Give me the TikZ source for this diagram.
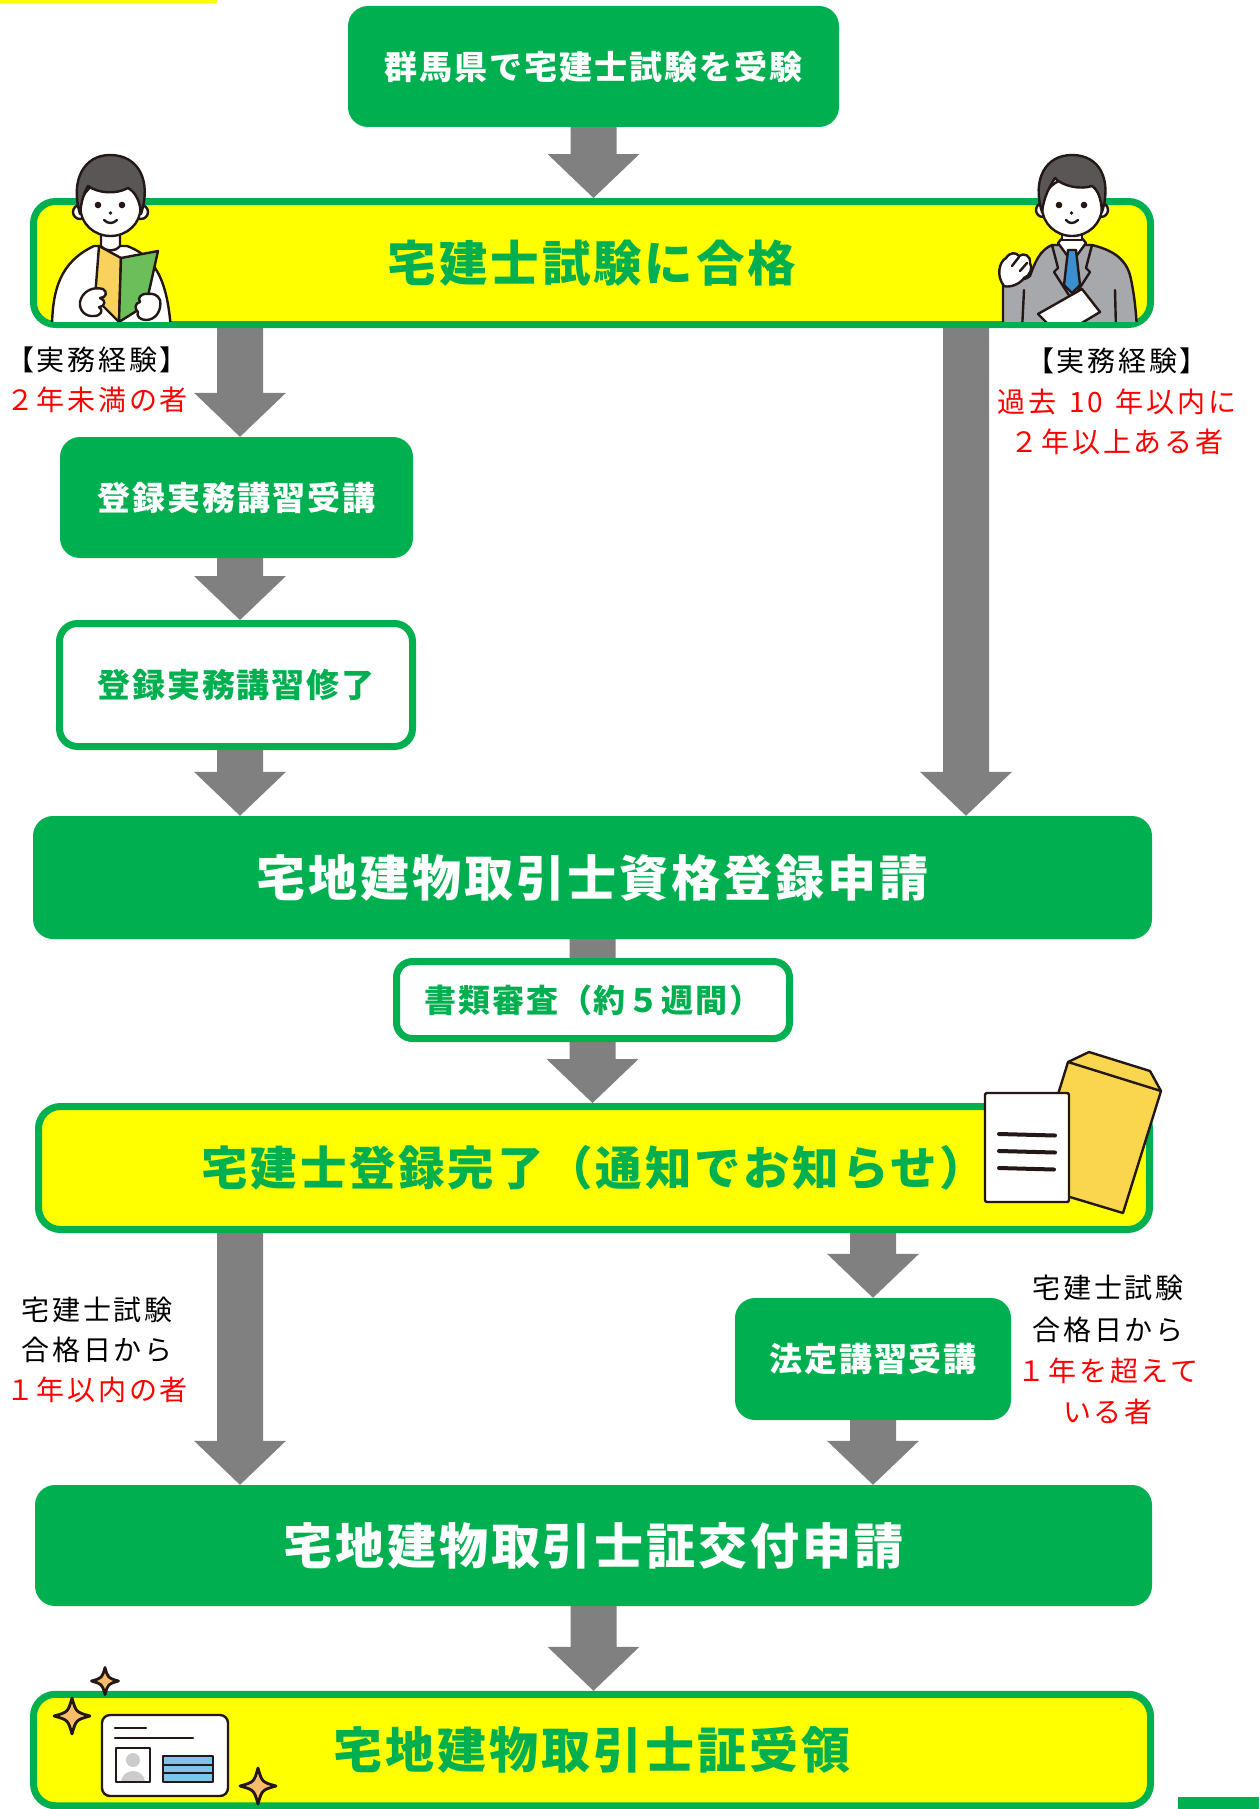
\documentclass[tikz,border=0pt]{standalone}
\usepackage{fontspec}
\usetikzlibrary{calc,backgrounds}

\newfontfamily\jp{Noto Sans CJK JP}[LetterSpace=6]
\newfontfamily\jplbl{Noto Sans CJK JP}[LetterSpace=10]

\definecolor{flowgreen}{HTML}{00B050}
\definecolor{flowyellow}{HTML}{FFFF00}
\definecolor{flowgray}{HTML}{808080}
\definecolor{flowred}{HTML}{FF0000}
\definecolor{ink}{HTML}{231815}
\definecolor{hair}{HTML}{5A5655}
\definecolor{suit}{HTML}{A6A8AB}
\definecolor{tie}{HTML}{3B8ED0}
\definecolor{bookyellow}{HTML}{F9D25E}
\definecolor{bookgreen}{HTML}{6CBE5A}
\definecolor{envelope}{HTML}{FAD54E}
\definecolor{sparkfill}{HTML}{F8BC6A}
\definecolor{cardblue}{HTML}{80C2EA}
\definecolor{silhouette}{HTML}{CCCCCC}

\newcommand\boxfont[1]{\jp\bfseries\fontsize{#1}{#1}\selectfont}
\newcommand\lblfont[1]{\jplbl\fontsize{28}{#1}\selectfont}

% thick grey block arrow from the first point straight down to the tip
\newcommand\flowarrow[2]{%
  \fill[flowgray] let \p1=(#1), \p2=(#2) in
    (\x1-23pt,\y1) -- (\x1+23pt,\y1) -- (\x1+23pt,\y2+44pt) -- (\x1+46pt,\y2+44pt)
    -- (\x1,\y2) -- (\x1-46pt,\y2+44pt) -- (\x1-23pt,\y2+44pt) -- cycle;}

% four-pointed sparkle: centre x, centre y, radius
\newcommand\sparkle[3]{%
  \filldraw[fill=sparkfill, draw=ink, line width=2.8pt, line join=round,
            shift={(#1,#2)}, scale=#3]
    (0,-1) .. controls (0.22,-0.22) .. (1,0) .. controls (0.22,0.22) .. (0,1)
    .. controls (-0.22,0.22) .. (-1,0) .. controls (-0.22,-0.22) .. (0,-1) -- cycle;}

\tikzset{
  greenbox/.style={fill=flowgreen, text=white, rounded corners=20pt, inner sep=0pt},
  yellowbox/.style={fill=flowyellow, draw=flowgreen, line width=7pt, text=flowgreen,
                    rounded corners=22pt, inner sep=0pt},
  whitebox/.style={fill=white, draw=flowgreen, line width=7pt, text=flowgreen,
                   rounded corners=18pt, inner sep=0pt},
  lbl/.style={text=black, align=center, inner sep=0pt},
  art/.style={draw=ink, line width=2.4pt, line join=round, line cap=round},
}

\begin{document}
\begin{tikzpicture}[x=1pt, y=-1pt]
\useasboundingbox (0,0) rectangle (1259,1809);

% ---- flow boxes ----
\node[greenbox, minimum width=491pt, minimum height=121pt, font=\boxfont{33}]
  (exam) at (593.5,66.5) {群馬県で宅建士試験を受験};
\node[yellowbox, minimum width=1117pt, minimum height=123pt, font=\boxfont{48.5}]
  (pass) at (592,263) {宅建士試験に合格};
\node[greenbox, minimum width=353pt, minimum height=121pt, font=\boxfont{33}]
  (course) at (236.5,497.5) {登録実務講習受講};
\node[whitebox, minimum width=353pt, minimum height=123pt, font=\boxfont{33}]
  (done) at (236,685) {登録実務講習修了};
\node[greenbox, minimum width=1119pt, minimum height=123pt, font=\boxfont{49}]
  (regapp) at (592.5,877.5) {宅地建物取引士資格登録申請};
\node[whitebox, minimum width=393pt, minimum height=77pt, rounded corners=16pt, font=\boxfont{32}]
  (review) at (593,1000) {書類審査（約５週間）};
\node[yellowbox, minimum width=1111pt, minimum height=123pt, font=\boxfont{46.5}]
  (regdone) at (594,1168) {宅建士登録完了（通知でお知らせ）};
\node[greenbox, minimum width=276pt, minimum height=122pt, font=\boxfont{33}]
  (legal) at (873,1359) {法定講習受講};
\node[greenbox, minimum width=1117pt, minimum height=121pt, font=\boxfont{49}]
  (cardapp) at (593.5,1545.5) {宅地建物取引士証交付申請};
\node[yellowbox, minimum width=1117pt, minimum height=111.5pt, font=\boxfont{49}]
  (receive) at (592,1750) {宅地建物取引士証受領};

% ---- side labels ----
\node[lbl, font=\lblfont{40}] (expA) at (97,380)
  {【実務経験】\\\textcolor{flowred}{２年未満の者}};
\node[lbl, font=\lblfont{40.5}] (expB) at (1117,401.5)
  {【実務経験】\\\textcolor{flowred}{過去\hspace{0.45em}10\hspace{0.45em}年以内に}\\\textcolor{flowred}{２年以上ある者}};
\node[lbl, font=\lblfont{40}] (within) at (97,1350)
  {宅建士試験\\合格日から\\\textcolor{flowred}{１年以内の者}};
\node[lbl, font=\lblfont{41.3}] (beyond) at (1108,1350)
  {宅建士試験\\合格日から\\\textcolor{flowred}{１年を超えて}\\\textcolor{flowred}{いる者}};

% ---- connectors ----
\coordinate (lcol) at (240,0);
\coordinate (rcol) at (966,0);
\begin{pgfonlayer}{background}
  \fill[white] (0,0) rectangle (1259,1809);
  \flowarrow{exam.south}{pass.north}
  \flowarrow{pass.south -| lcol}{course.north -| lcol}
  \flowarrow{course.south -| lcol}{done.north -| lcol}
  \flowarrow{done.south -| lcol}{regapp.north -| lcol}
  \flowarrow{pass.south -| rcol}{regapp.north -| rcol}
  \flowarrow{regapp.south}{regdone.north}
  \flowarrow{regdone.south -| lcol}{cardapp.north -| lcol}
  \flowarrow{regdone.south -| legal.north}{legal.north}
  \flowarrow{legal.south}{cardapp.north}
  \flowarrow{cardapp.south}{receive.north}
\end{pgfonlayer}

% ---- page decorations ----
\fill[flowyellow] (0,0) rectangle (217,3);
\fill[flowgreen] (1178,1797) rectangle (1259,1809);

% ---- student with a book ----
\begin{scope}
  \clip (40,140) rectangle (180,321.5);
  \filldraw[art, fill=white] (52,330) .. controls (52,290) and (60,262) .. (94,246)
    -- (127,246) .. controls (160,258) and (168,290) .. (171,330);
  \filldraw[art, fill=white] (101,226) -- (101,246) .. controls (106,252) and (115,252) .. (120,246) -- (120,226);
  \filldraw[art, fill=white] (80,212) circle[radius=7pt];
  \filldraw[art, fill=white] (141,212) circle[radius=7pt];
  \filldraw[art, fill=white] (110.5,208) ellipse[x radius=30pt, y radius=28pt];
  \filldraw[art, fill=hair] (80,214) .. controls (70,180) and (84,155) .. (110,155)
    .. controls (138,155) and (152,180) .. (141,214)
    .. controls (140,200) and (135,192) .. (128,188)
    .. controls (115,195) and (98,193) .. (88,186)
    .. controls (83,194) and (81,204) .. (80,214) -- cycle;
  \fill[ink] (98,205) circle[radius=3.3pt] (122,205) circle[radius=3.3pt] (110.5,213) circle[radius=1.8pt];
  \draw[art] (104,220) .. controls (108,224) and (113,224) .. (117,220);
  \filldraw[art, fill=bookyellow] (99,246) -- (121,258) -- (119,322) -- (95,298) -- cycle;
  \filldraw[art, fill=bookgreen] (121,258) -- (158,251) -- (146,305) -- (119,322) -- cycle;
  % hands gripping the book
  \filldraw[art, fill=white] (80,302) .. controls (82,292) and (92,286) .. (103,289)
    .. controls (108,292) and (106,298) .. (100,298)
    .. controls (106,300) and (106,306) .. (99,307)
    .. controls (104,310) and (101,316) .. (94,316)
    .. controls (86,317) and (79,311) .. (80,302) -- cycle;
  \filldraw[art, fill=white] (160,300) .. controls (162,310) and (156,320) .. (146,320)
    .. controls (140,320) and (136,316) .. (138,312)
    .. controls (134,309) and (135,303) .. (140,302)
    .. controls (137,298) and (141,293) .. (148,294)
    .. controls (153,293) and (158,295) .. (160,300) -- cycle;
\end{scope}

% ---- businessman ----
\begin{scope}
  \clip (990,140) rectangle (1150,321.5);
  \filldraw[art, fill=suit] (1003,330) -- (1003,283) .. controls (1012,280) and (1025,281) .. (1030,276)
    .. controls (1035,262) and (1040,250) .. (1052,245) -- (1092,245)
    .. controls (1112,250) and (1125,258) .. (1130,275)
    .. controls (1134,292) and (1136,310) .. (1137,330);
  \draw[art] (1022,330) -- (1024,290);
  \filldraw[art, fill=white] (1058,243) -- (1072,262) -- (1086,243) -- (1080,236) -- (1064,236) -- cycle;
  \filldraw[art, fill=tie] (1068,250) -- (1076,250) -- (1080,285) -- (1072,293) -- (1064,285) -- cycle;
  \draw[art] (1052,245) -- (1058,268) -- (1054,272) -- (1072,300) (1092,245) -- (1086,268) -- (1090,272) -- (1072,300);
  \draw[art] (1115,290) -- (1116,330);
  \filldraw[art, fill=white] (1062,224) -- (1062,240) -- (1082,240) -- (1082,224);
  \filldraw[art, fill=white] (1043,210) circle[radius=7pt];
  \filldraw[art, fill=white] (1101,210) circle[radius=7pt];
  \filldraw[art, fill=white] (1072,207) ellipse[x radius=30pt, y radius=29pt];
  \filldraw[art, fill=hair] (1042,212) .. controls (1032,180) and (1045,155) .. (1072,155)
    .. controls (1100,155) and (1112,180) .. (1102,212)
    .. controls (1101,198) and (1098,190) .. (1092,186)
    .. controls (1080,190) and (1062,186) .. (1055,178)
    .. controls (1050,186) and (1044,196) .. (1042,212) -- cycle;
  \fill[ink] (1059,205) circle[radius=3.3pt] (1084,205) circle[radius=3.3pt] (1071.5,213) circle[radius=1.8pt];
  \draw[art] (1066,220) .. controls (1069,224) and (1074,224) .. (1078,220);
  % raised fist
  \filldraw[art, fill=white] (1004,286) .. controls (996,276) and (999,262) .. (1006,258)
    .. controls (1010,252) and (1016,252) .. (1019,256)
    .. controls (1024,252) and (1031,256) .. (1030,263)
    .. controls (1033,268) and (1030,276) .. (1024,278)
    .. controls (1020,284) and (1010,288) .. (1004,286) -- cycle;
  \draw[art] (1012,266) -- (1019,257) (1020,271) -- (1027,263);
  \filldraw[art, fill=white] (1038,314) -- (1082,289) -- (1100,312) -- (1060,336) -- cycle;
\end{scope}

% ---- notice envelope and sheet ----
\filldraw[art, fill=envelope] (1068,1062) -- (1089,1052) -- (1150,1071) -- (1161,1091)
  -- (1123,1213) -- (1030,1185) -- cycle;
\draw[art] (1068,1062) -- (1161,1091);
\filldraw[art, fill=white, rounded corners=2pt] (985,1093) rectangle (1069,1202);
\draw[ink, line width=4pt, line cap=round] (999,1134) -- (1055,1135.5) (999,1151) -- (1055,1152.5) (999,1168) -- (1054,1169.5);

% ---- licence card with sparkles ----
\filldraw[art, fill=white, rounded corners=8pt] (102,1715) rectangle (228,1796);
\draw[art] (115,1728) -- (146,1728) (115,1738) -- (193,1738);
\begin{scope}
  \clip (116,1748) rectangle (150,1782);
  \fill[silhouette] (133,1760) circle[radius=7pt];
  \fill[silhouette] (133,1782) ellipse[x radius=12pt, y radius=11pt];
\end{scope}
\draw[art] (116,1748) rectangle (150,1782);
\filldraw[art, fill=cardblue] (163,1756) rectangle (213,1782);
\draw[ink, line width=2pt] (163,1764.7) -- (213,1764.7) (163,1773.3) -- (213,1773.3);
\sparkle{105}{1681}{13.5}
\sparkle{72}{1716}{18}
\sparkle{258}{1786}{18}
\end{tikzpicture}
\end{document}
